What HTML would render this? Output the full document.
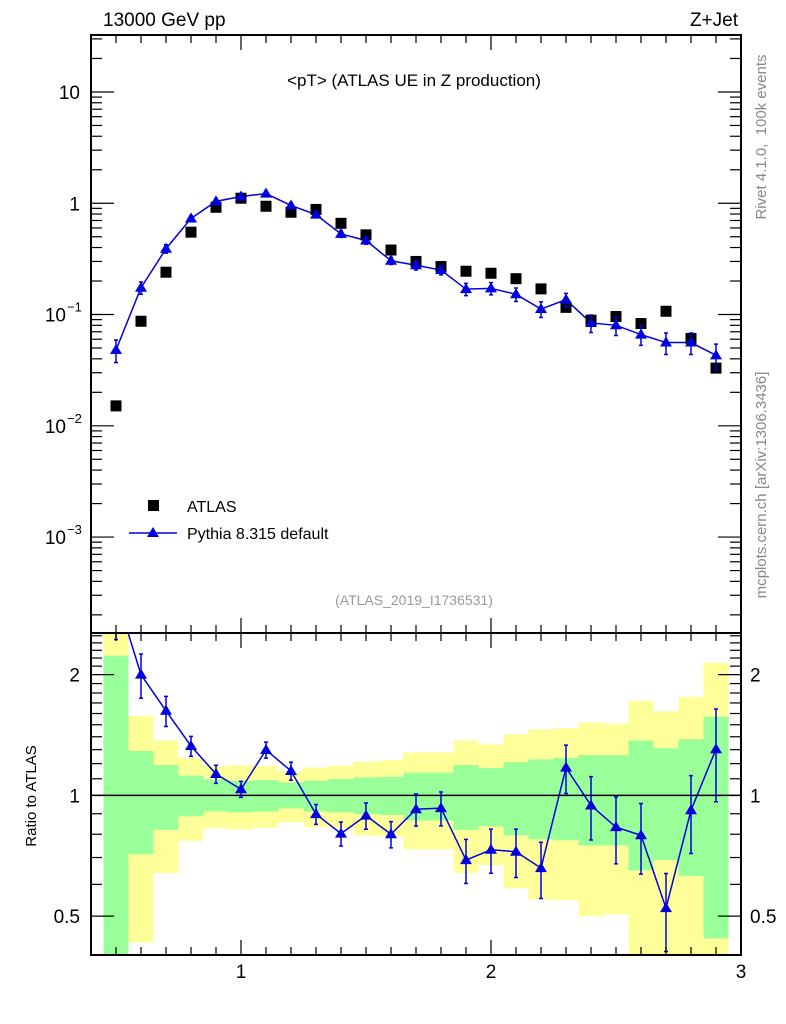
<!DOCTYPE html>
<html><head><meta charset="utf-8">
<style>
html,body{margin:0;padding:0;background:#fff;}
svg{display:block;font-family:"Liberation Sans",sans-serif;}
</style></head>
<body>
<svg id="chart" width="786" height="1024" viewBox="0 0 786 1024" xmlns="http://www.w3.org/2000/svg">
<text x="103" y="26" font-size="19">13000 GeV pp</text>
<text x="738" y="26" font-size="19" text-anchor="end">Z+Jet</text>
<text x="414" y="86" font-size="17" text-anchor="middle">&lt;pT&gt; (ATLAS UE in Z production)</text>
<text x="0" y="0" font-size="15" fill="#888" text-anchor="middle" transform="translate(766,137) rotate(-90)">Rivet 4.1.0, &#160;100k events</text>
<text x="0" y="0" font-size="15" fill="#888" text-anchor="middle" transform="translate(766,485) rotate(-90)">mcplots.cern.ch [arXiv:1306.3436]</text>
<text x="414" y="605" font-size="14" fill="#999" text-anchor="middle">(ATLAS_2019_I1736531)</text>
<text x="0" y="0" font-size="15" text-anchor="middle" transform="translate(36,796) rotate(-90)">Ratio to ATLAS</text>
<g id="bands"></g>
<g id="marks"></g>
<g id="axes"></g>
<rect x="148" y="500" width="11" height="11" fill="#000"/>
<text x="187" y="512" font-size="16">ATLAS</text>
<line x1="129" y1="533" x2="177" y2="533" stroke="#0000e0" stroke-width="1.5"/>
<polygon points="153,527 147,537 159,537" fill="#0000e0"/>
<text x="187" y="539" font-size="16">Pythia 8.315 default</text>
</svg>
<script>
const xCenters=[0.5,0.6,0.7,0.8,0.9,1.0,1.1,1.2,1.3,1.4,1.5,1.6,1.7,1.8,1.9,2.0,2.1,2.2,2.3,2.4,2.5,2.6,2.7,2.8,2.9];
const atlasVals=[0.0151,0.087,0.24,0.55,0.92,1.11,0.94,0.83,0.88,0.66,0.52,0.38,0.30,0.27,0.245,0.235,0.21,0.17,0.116,0.089,0.096,0.083,0.107,0.061,0.033];
const mcVals=[0.048,0.174,0.39,0.73,1.04,1.15,1.22,0.955,0.79,0.53,0.463,0.304,0.277,0.251,0.169,0.172,0.152,0.112,0.136,0.084,0.080,0.066,0.056,0.056,0.043];
const mcRelErr=[0.23,0.126,0.086,0.057,0.052,0.046,0.046,0.052,0.057,0.069,0.075,0.075,0.092,0.097,0.126,0.126,0.138,0.16,0.138,0.18,0.19,0.2,0.22,0.22,0.26];
const statUp=[2.23,1.29,1.19,1.12,1.096,1.088,1.092,1.077,1.088,1.098,1.109,1.113,1.14,1.14,1.19,1.17,1.21,1.23,1.24,1.26,1.26,1.37,1.31,1.38,1.57];
const statDn=[0.3,0.713,0.82,0.887,0.912,0.907,0.911,0.928,0.912,0.907,0.899,0.894,0.866,0.866,0.82,0.837,0.795,0.777,0.773,0.75,0.75,0.65,0.69,0.63,0.44];
const totUp=[3.0,1.58,1.37,1.24,1.183,1.19,1.183,1.15,1.174,1.186,1.215,1.224,1.28,1.28,1.37,1.34,1.42,1.46,1.47,1.52,1.51,1.72,1.62,1.76,2.14];
const totDn=[0.3,0.43,0.64,0.77,0.828,0.822,0.831,0.857,0.833,0.83,0.794,0.79,0.734,0.734,0.64,0.67,0.587,0.55,0.548,0.50,0.505,0.3,0.3,0.3,0.3];
const mainTicks=[{v:10,l:"10"},{v:1,l:"1"},{v:0.1,l:"10",e:"−1"},{v:0.01,l:"10",e:"−2"},{v:0.001,l:"10",e:"−3"}];
const ratioTicks=[{v:2,l:"2"},{v:1,l:"1"},{v:0.5,l:"0.5"}];
const xTicks=[1,2,3];

const NS="http://www.w3.org/2000/svg";
const L=91,R=741,T=35,MB=633,RB=955;
const X0=0.4,X1=3.0;
const MY0=-3.862,MY1=1.512;
const RY0=Math.log10(0.4),RY1=Math.log10(2.54);
const sx=v=>L+(v-X0)/(X1-X0)*(R-L);
const sy=v=>MB-(Math.log10(v)-MY0)/(MY1-MY0)*(MB-T);
const ry=v=>RB-(Math.log10(v)-RY0)/(RY1-RY0)*(RB-MB);
function mk(tag,attrs,parent){const e=document.createElementNS(NS,tag);for(const k in attrs)e.setAttribute(k,attrs[k]);parent.appendChild(e);return e;}
const bands=document.getElementById('bands'),marks=document.getElementById('marks'),axes=document.getElementById('axes');
const clamp=(y,a,b)=>Math.max(a,Math.min(b,y));
// bands
xCenters.forEach((c,i)=>{
  const x0=sx(c-0.05),x1=sx(c+0.05);
  const yt=clamp(ry(totUp[i]),MB,RB),yb=clamp(ry(totDn[i]),MB,RB);
  const y=mk('rect',{x:x0,y:yt,width:x1-x0,height:yb-yt,fill:'#ffff99'},bands);
  
  
  const gt=clamp(ry(statUp[i]),MB,RB),gb=clamp(ry(statDn[i]),MB,RB);
  const g=mk('rect',{x:x0,y:gt,width:x1-x0,height:gb-gt,fill:'#99ff99'},bands);
  
  
});
const one=mk('line',{x1:L,x2:R,y1:ry(1),y2:ry(1),stroke:'#000','stroke-width':1.5},bands);


// main marks
const blue='#0000e0';
const mp=xCenters.map((c,i)=>sx(c)+','+sy(mcVals[i])).join(' ');
const ml=mk('polyline',{points:mp,fill:'none',stroke:blue,'stroke-width':1.5},marks);


function tri(x,y,parent,name){const p=mk('polygon',{points:`${x},${y-6} ${x-6},${y+4} ${x+6},${y+4}`,fill:blue},parent);}
function err(x,y1,y2,parent){const g=mk('path',{d:`M${x},${y1}V${y2}M${x-2},${y1}H${x+2}M${x-2},${y2}H${x+2}`,stroke:blue,'stroke-width':1.5,fill:'none'},parent);}
xCenters.forEach((c,i)=>{
  const x=sx(c);
  const s=mk('rect',{x:x-5.5,y:sy(atlasVals[i])-5.5,width:11,height:11,fill:'#000'},marks);
  
  
  const v=mcVals[i],e=mcRelErr[i];
  err(x,sy(v*(1+e)),sy(v*(1-e)),marks);
  tri(x,sy(v),marks,'pythia-point');
});
// ratio
const clipG=mk('clipPath',{id:'rclip'},marks);
mk('rect',{x:L,y:MB,width:R-L,height:RB-MB},clipG);
const rg=mk('g',{'clip-path':'url(#rclip)'},marks);
const rp=xCenters.map((c,i)=>sx(c)+','+ry(mcVals[i]/atlasVals[i])).join(' ');
const rl=mk('polyline',{points:rp,fill:'none',stroke:blue,'stroke-width':1.5},rg);


xCenters.forEach((c,i)=>{
  const x=sx(c),r=mcVals[i]/atlasVals[i],e=mcRelErr[i];
  err(x,ry(r*(1+e)),ry(r*(1-e)),rg);
  tri(x,ry(r),rg,'ratio-point');
});
// axes frames
[[T,MB],[MB,RB]].forEach(([a,b],k)=>{
  const f=mk('rect',{x:L,y:a,width:R-L,height:b-a,fill:'none',stroke:'#000','stroke-width':2},axes);
  
  
  // x ticks
  for(let t=5;t<=29;t++){const v=t/10;const x=sx(v);const maj=(t%10===0);const len=maj?15:8;
    mk('line',{x1:x,x2:x,y1:b,y2:b-len,stroke:'#000','stroke-width':1.2},axes);
    mk('line',{x1:x,x2:x,y1:a,y2:a+len,stroke:'#000','stroke-width':1.2},axes);}
});
mk('line',{x1:sx(3),x2:sx(3),y1:RB,y2:RB-15,stroke:'#000'},axes);
xTicks.forEach(v=>{const t=mk('text',{x:sx(v),y:978,'font-size':19,'text-anchor':'middle'},axes);t.textContent=v;
  
  });
// main y ticks
for(let d=-4;d<=1;d++){for(let m=1;m<=9;m++){const v=m*Math.pow(10,d);const y=sy(v);if(y<T||y>MB)continue;const len=m===1?23:11;
  mk('line',{x1:L,x2:L+len,y1:y,y2:y,stroke:'#000','stroke-width':1.2},axes);
  mk('line',{x1:R,x2:R-len,y1:y,y2:y,stroke:'#000','stroke-width':1.2},axes);}}
mainTicks.forEach(o=>{const y=sy(o.v);const t=mk('text',{x:o.e?66:80,y:y+7,'font-size':19,'text-anchor':'end'},axes);t.textContent=o.l;
  
  
  if(o.e){const s=mk('text',{x:67,y:y-3,'font-size':13},axes);s.textContent=o.e;
  
  }});
// ratio y ticks
for(let t=4;t<=25;t++){const v=t/10;if(v>=1&&t%1!==0)continue;const y=ry(v);if(y<MB||y>RB)continue;const maj=(v===0.5||v===1||v===2);const len=maj?23:11;
  mk('line',{x1:L,x2:L+len,y1:y,y2:y,stroke:'#000','stroke-width':1.2},axes);
  mk('line',{x1:R,x2:R-len,y1:y,y2:y,stroke:'#000','stroke-width':1.2},axes);}
ratioTicks.forEach(o=>{const y=ry(o.v);
  const t=mk('text',{x:80,y:y+7,'font-size':19,'text-anchor':'end'},axes);t.textContent=o.l;
  
  
  const t2=mk('text',{x:750,y:y+7,'font-size':19},axes);t2.textContent=o.l;
  
  });
</script>
</body></html>
